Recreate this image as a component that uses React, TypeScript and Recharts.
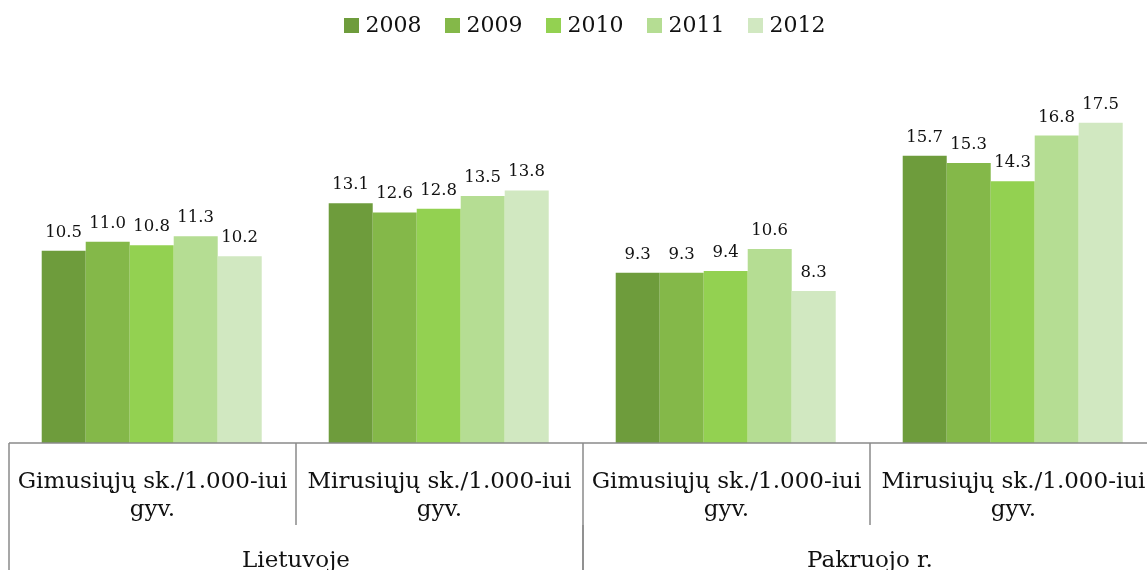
import React from "react";
import { BarChart, Bar, XAxis, YAxis, Legend, LabelList } from "recharts";

const categories = [
  "Gimusiųjų sk./1.000-iui gyv.",
  "Mirusiųjų sk./1.000-iui gyv.",
  "Gimusiųjų sk./1.000-iui gyv.",
  "Mirusiųjų sk./1.000-iui gyv.",
];
const groups = ["Lietuvoje", "Lietuvoje", "Pakruojo r.", "Pakruojo r."];
const years = ["2008", "2009", "2010", "2011", "2012"];
const v2008 = [10.5, 13.1, 9.3, 15.7];
const v2009 = [11.0, 12.6, 9.3, 15.3];
const v2010 = [10.8, 12.8, 9.4, 14.3];
const v2011 = [11.3, 13.5, 10.6, 16.8];
const v2012 = [10.2, 13.8, 8.3, 17.5];
const colors = ["#6e9c3c", "#84b849", "#93d151", "#b5dd93", "#d1e8c1"];

const series = [v2008, v2009, v2010, v2011, v2012];
const data = categories.map((cat, i) => {
  const row: Record<string, string | number> = { cat, group: groups[i] };
  years.forEach((y, k) => (row[y] = series[k][i]));
  return row;
});

const FONT = "'DejaVu Serif', serif";
const W = 1149;
const H = 562;
const M = { top: 5, right: 0, bottom: 0, left: 1 };
const BAND = (W - M.left - M.right) / categories.length;
const LINE = "#8a8a8a";

function splitLabel(s: string): [string, string] {
  const i = s.lastIndexOf(" ");
  return [s.slice(0, i), s.slice(i + 1)];
}

function CatTick(props: any) {
  const { x, y, payload } = props;
  const half = BAND / 2;
  const [a, b] = splitLabel(String(payload.value));
  return (
    <g>
      <line x1={x - half} x2={x - half} y1={y} y2={y + 82} stroke={LINE} strokeWidth={1.5} />
      <text x={x} y={y} textAnchor="middle" fontFamily={FONT} fontSize={23} fill="#111">
        <tspan x={x} dy={45}>{a}</tspan>
        <tspan x={x} dy={28}>{b}</tspan>
      </text>
    </g>
  );
}

function GroupTick(props: any) {
  const { x, y, payload } = props;
  return (
    <g>
      <line x1={x - BAND} x2={x - BAND} y1={y} y2={y + 50} stroke={LINE} strokeWidth={1.5} />
      <line x1={x + BAND} x2={x + BAND} y1={y} y2={y + 50} stroke={LINE} strokeWidth={1.5} />
      <text x={x} y={y + 42} textAnchor="middle" fontFamily={FONT} fontSize={23} fill="#111">
        {payload.value}
      </text>
    </g>
  );
}

function LegendContent(props: any) {
  const { payload } = props;
  return (
    <div style={{ height: 64, display: "flex", justifyContent: "center", paddingLeft: 26, fontFamily: FONT }}>
      {payload.map((p: any) => (
        <div key={p.value} style={{ display: "flex", alignItems: "center", marginRight: 23, height: 24 }}>
          <span style={{ width: 15, height: 15, background: p.color, marginRight: 7, display: "inline-block" }} />
          <span style={{ fontSize: 22, color: "#111", lineHeight: "24px" }}>{p.value}</span>
        </div>
      ))}
    </div>
  );
}

export default function App() {
  return (
    <div style={{ position: "fixed", top: 8, left: 8, width: 1139, height: H, overflow: "hidden" }}>
      <BarChart width={W} height={H} data={data} margin={M} barCategoryGap="11.4%" barGap={0}>
        <XAxis
          xAxisId={0}
          dataKey="cat"
          height={82}
          tickSize={0}
          tickMargin={0}
          tickLine={false}
          axisLine={{ stroke: LINE, strokeWidth: 1.5 }}
          tick={<CatTick />}
          interval={0}
        />
        <XAxis
          xAxisId="g"
          dataKey="group"
          allowDuplicatedCategory={false}
          height={45}
          tickSize={0}
          tickMargin={0}
          tickLine={false}
          axisLine={false}
          tick={<GroupTick />}
          interval={0}
        />
        <YAxis hide domain={[0, 20]} />
        <Legend verticalAlign="top" align="center" content={<LegendContent />} />
        {years.map((y, k) => (
          <Bar key={y} xAxisId={0} dataKey={y} fill={colors[k]} isAnimationActive={false}>
            <LabelList
              dataKey={y}
              position="top"
              offset={14}
              formatter={(v: any) => Number(v).toFixed(1)}
              style={{ fontFamily: FONT, fontSize: 16.5, fill: "#111" }}
            />
          </Bar>
        ))}
      </BarChart>
    </div>
  );
}
